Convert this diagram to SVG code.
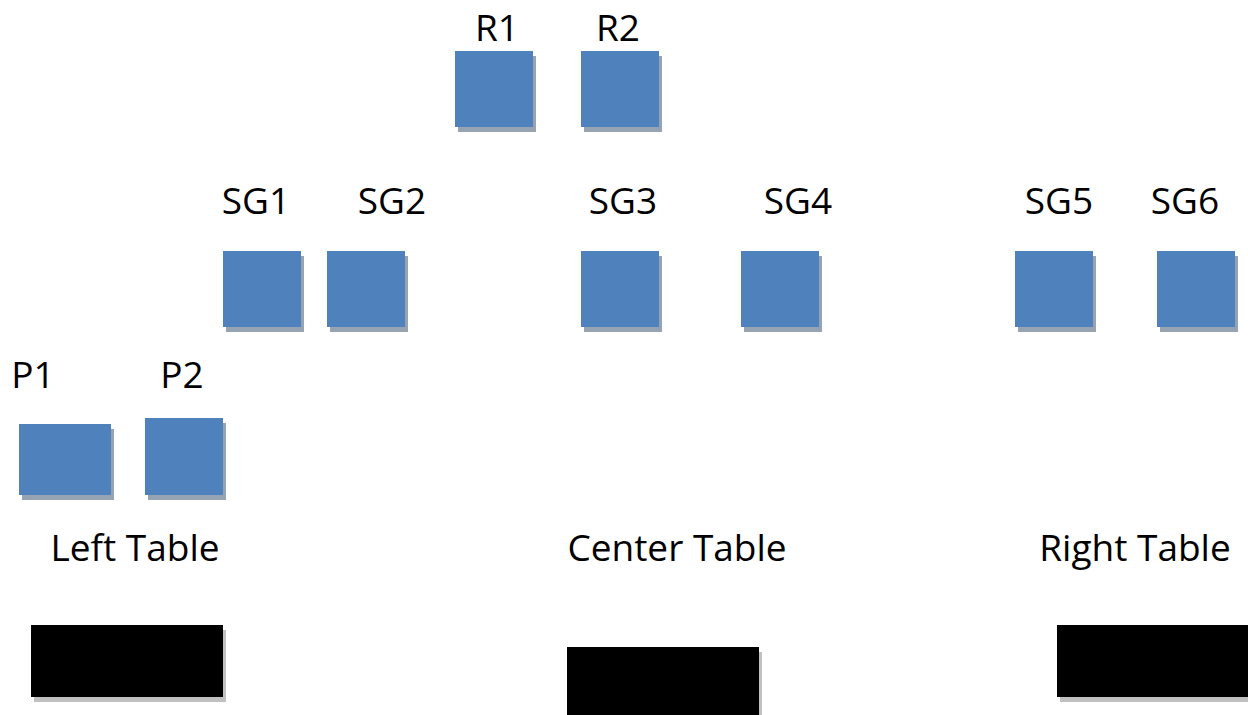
<svg xmlns="http://www.w3.org/2000/svg" width="1248" height="715" viewBox="0 0 1248 715">
<style>
.lbl{font-family:"Open Sans","Liberation Sans",sans-serif;font-size:37px;fill:#000;text-anchor:middle}
.node{fill:#4f81bd}
.sh{fill:#95a3b3}
.tbl{fill:#000}
.tsh{fill:#c0c0c0}
</style>
<rect width="1248" height="715" fill="#fff"/>
<g id="connectors"></g>
<g id="R1"><rect class="sh" x="458" y="56" width="78" height="76"/><rect class="node" x="455" y="51" width="78" height="76"/><text class="lbl" x="497" y="41">R1</text></g>
<g id="R2"><rect class="sh" x="584" y="56" width="78" height="76"/><rect class="node" x="581" y="51" width="78" height="76"/><text class="lbl" x="618" y="41">R2</text></g>
<g id="SG1"><rect class="sh" x="226" y="256" width="78" height="76"/><rect class="node" x="223" y="251" width="78" height="76"/><text class="lbl" x="256" y="214">SG1</text></g>
<g id="SG2"><rect class="sh" x="330" y="256" width="78" height="76"/><rect class="node" x="327" y="251" width="78" height="76"/><text class="lbl" x="392" y="214">SG2</text></g>
<g id="SG3"><rect class="sh" x="584" y="256" width="78" height="76"/><rect class="node" x="581" y="251" width="78" height="76"/><text class="lbl" x="623" y="214">SG3</text></g>
<g id="SG4"><rect class="sh" x="744" y="256" width="78" height="76"/><rect class="node" x="741" y="251" width="78" height="76"/><text class="lbl" x="798" y="214">SG4</text></g>
<g id="SG5"><rect class="sh" x="1018" y="256" width="78" height="76"/><rect class="node" x="1015" y="251" width="78" height="76"/><text class="lbl" x="1059" y="214">SG5</text></g>
<g id="SG6"><rect class="sh" x="1160" y="256" width="78" height="76"/><rect class="node" x="1157" y="251" width="78" height="76"/><text class="lbl" x="1185" y="214">SG6</text></g>
<g id="P1"><rect class="sh" x="22" y="429" width="92" height="71"/><rect class="node" x="19" y="424" width="92" height="71"/><text class="lbl" x="33" y="388">P1</text></g>
<g id="P2"><rect class="sh" x="148" y="423" width="78" height="77"/><rect class="node" x="145" y="418" width="78" height="77"/><text class="lbl" x="182" y="388">P2</text></g>
<g id="LeftTable"><rect class="tsh" x="34" y="630" width="192" height="72"/><rect class="tbl" x="31" y="625" width="192" height="72"/><text class="lbl" x="135" y="561">Left Table</text></g>
<g id="CenterTable"><rect class="tsh" x="570" y="652" width="192" height="72"/><rect class="tbl" x="567" y="647" width="192" height="72"/><text class="lbl" x="677" y="561">Center Table</text></g>
<g id="RightTable"><rect class="tsh" x="1060" y="630" width="192" height="72"/><rect class="tbl" x="1057" y="625" width="192" height="72"/><text class="lbl" x="1135" y="561">Right Table</text></g>
</svg>
